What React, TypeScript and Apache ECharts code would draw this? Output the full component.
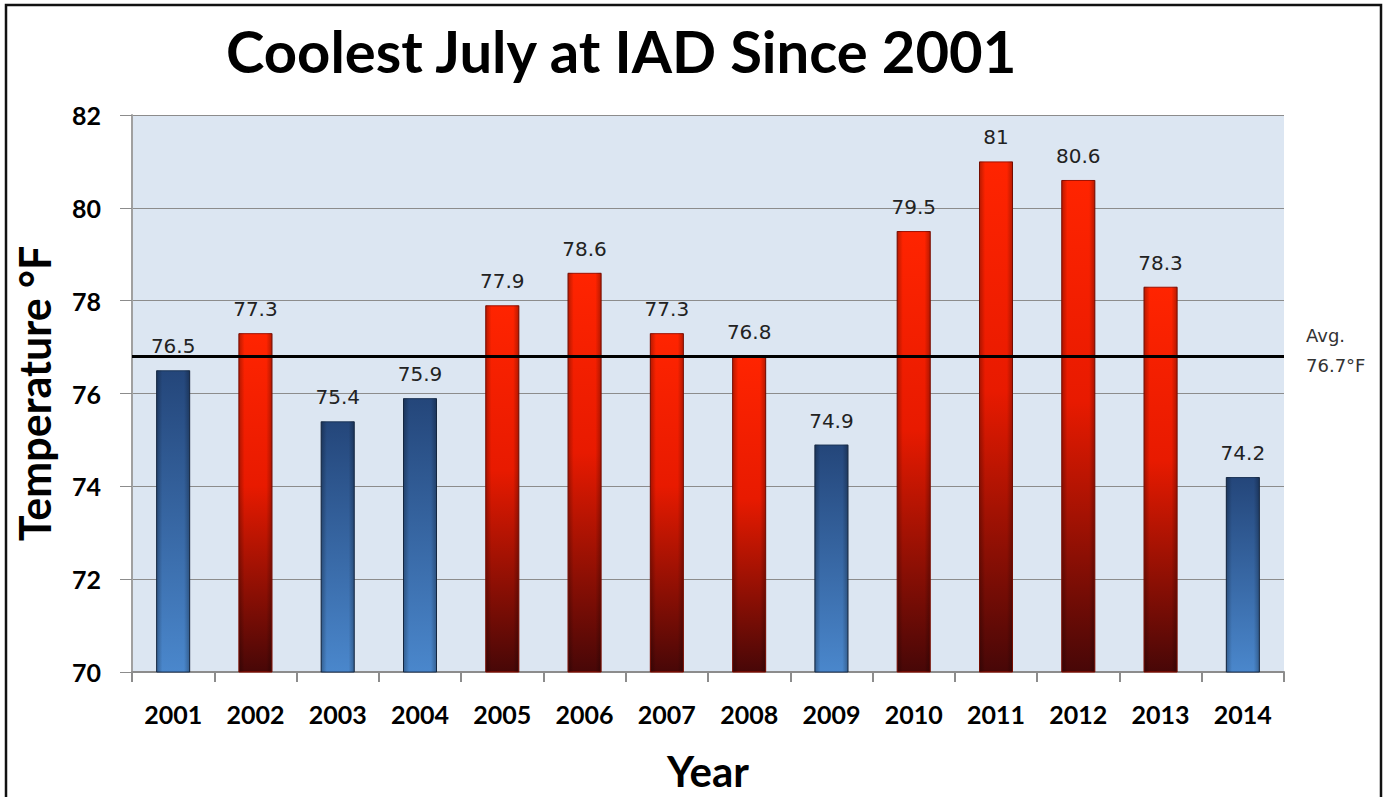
import React, { useEffect, useRef } from "react";
import * as echarts from "echarts";

const years = ["2001","2002","2003","2004","2005","2006","2007","2008","2009","2010","2011","2012","2013","2014"];
const temps = [76.5, 77.3, 75.4, 75.9, 77.9, 78.6, 77.3, 76.8, 74.9, 79.5, 81, 80.6, 78.3, 74.2];
const avgValue = 76.7;
const avgLineLevel = 76.8;
const avgLabelLines = ["Avg.", "76.7°F"];
const yTicks = { min: 70, max: 82, interval: 2 };

const redFill = new echarts.graphic.LinearGradient(0, 0, 0, 1, [
  { offset: 0, color: "#ff2400" },
  { offset: 0.45, color: "#e81a00" },
  { offset: 1, color: "#470707" },
]);
const blueFill = new echarts.graphic.LinearGradient(0, 0, 0, 1, [
  { offset: 0, color: "#24467a" },
  { offset: 1, color: "#4a87cc" },
]);
const edgeShade = new echarts.graphic.LinearGradient(0, 0, 1, 0, [
  { offset: 0, color: "rgba(0,0,0,0.30)" },
  { offset: 0.18, color: "rgba(0,0,0,0)" },
  { offset: 0.82, color: "rgba(0,0,0,0)" },
  { offset: 1, color: "rgba(0,0,0,0.30)" },
]);

export default function App() {
  const ref = useRef<HTMLDivElement>(null);
  useEffect(() => {
    if (!ref.current) return;
    const chart = echarts.init(ref.current, null, { renderer: "svg" });
    chart.setOption({
      animation: false,
      backgroundColor: "#ffffff",
      title: {
        text: "Coolest July at IAD Since 2001",
        left: 221,
        top: 16,
        textStyle: { fontFamily: "Lato", fontWeight: "bold", fontSize: 58, color: "#000" },
      },
      grid: { left: 132, right: 99, top: 115, bottom: 122, show: true, backgroundColor: "#dce6f2", borderWidth: 0 },
      xAxis: {
        type: "category",
        data: years,
        name: "Year",
        nameLocation: "middle",
        nameGap: 78,
        nameTextStyle: { fontFamily: "Lato", fontWeight: "bold", fontSize: 42, color: "#000" },
        axisLine: { lineStyle: { color: "#8c8c8c", width: 2 } },
        axisTick: { show: true, length: 10, lineStyle: { color: "#8c8c8c", width: 2 } },
        axisLabel: { fontFamily: "Lato", fontWeight: "bold", fontSize: 25, color: "#000", margin: 29 },
      },
      yAxis: {
        type: "value",
        min: yTicks.min,
        max: yTicks.max,
        interval: yTicks.interval,
        name: "Temperature °F",
        nameLocation: "middle",
        nameRotate: 90,
        nameGap: 76,
        nameTextStyle: { fontFamily: "Lato", fontWeight: "bold", fontSize: 43, color: "#000" },
        axisLine: { show: true, lineStyle: { color: "#a0a0a0", width: 2 } },
        axisTick: { show: true, length: 12, lineStyle: { color: "#8c8c8c", width: 1 } },
        splitLine: { lineStyle: { color: "#8c8c8c", width: 1 } },
        axisLabel: { fontFamily: "Lato", fontWeight: "bold", fontSize: 25, color: "#000", margin: 31 },
      },
      series: [
        {
          type: "bar",
          barWidth: 34,
          z: 2,
          data: temps.map((v) => ({
            value: v,
            itemStyle: { color: v > avgValue ? redFill : blueFill, borderColor: v > avgValue ? "#a01000" : "#1c3558", borderWidth: 1 },
          })),
          label: { show: true, position: "top", distance: 14, fontFamily: "DejaVu Sans", fontSize: 20, color: "#222" },
          markLine: {
            silent: true,
            symbol: "none",
            z: 5,
            lineStyle: { color: "#000", width: 3, type: "solid" },
            label: { show: false },
            data: [{ yAxis: avgLineLevel }],
          },
        },
        {
          type: "bar",
          barWidth: 34,
          barGap: "-100%",
          z: 3,
          silent: true,
          data: temps,
          itemStyle: { color: edgeShade },
        },
      ],
      graphic: [
        {
          type: "rect",
          shape: { x: 6, y: 5, width: 1375, height: 900 },
          style: { fill: "none", stroke: "#111", lineWidth: 2.5 },
        },
        {
          type: "text",
          x: 1306,
          y: 320,
          style: {
            text: avgLabelLines.join("\n"),
            fontFamily: "DejaVu Sans",
            fontSize: 18,
            lineHeight: 30,
            fill: "#333",
          },
        },
      ],
    });
    return () => chart.dispose();
  }, []);
  return <div ref={ref} style={{ position: "absolute", left: 0, top: 0, width: 1383, height: 797 }} />;
}
